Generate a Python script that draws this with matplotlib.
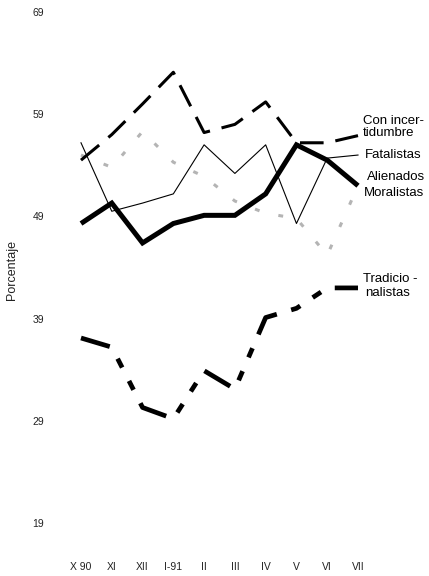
import matplotlib
matplotlib.use("Agg")
import matplotlib.pyplot as plt

months = ["X 90", "XI", "XII", "I-91", "II", "III", "IV", "V", "VI", "VII"]
con_incertidumbre = [54.5, 57.0, 60.0, 63.1, 57.2, 58.0, 60.2, 56.2, 56.2, 56.9]
fatalistas = [56.2, 49.5, 50.3, 51.2, 56.0, 53.2, 56.0, 48.3, 54.7, 55.0]
alienados = [48.3, 50.3, 46.4, 48.3, 49.1, 49.1, 51.2, 56.0, 54.5, 52.0]
moralistas = [55.0, 53.8, 57.3, 54.3, 52.9, 50.5, 49.3, 48.8, 45.2, 52.0]
tradicionalistas = [37.1, 36.2, 30.3, 29.2, 33.9, 32.1, 39.1, 40.0, 42.0, 42.0]
yticks = [19, 29, 39, 49, 59, 69]

plt.rcParams['font.family'] = ['Liberation Sans', 'DejaVu Sans']
plt.rcParams['lines.scale_dashes'] = False

W, H = 429, 576
fig = plt.figure(figsize=(W / 100, H / 100), dpi=100)
ax = fig.add_axes([50 / W, 24 / H, 345 / W, 552 / H])

x = list(range(len(months)))

ax.plot(x, moralistas, color='#b4b4b4', lw=2.2, linestyle=(0, (3.5, 14)),
        solid_capstyle='butt')
ax.plot(x, fatalistas, color='black', lw=0.8)
ax.plot(x, alienados, color='black', lw=3.6, solid_joinstyle='miter',
        solid_capstyle='butt')
ax.plot(x, con_incertidumbre, color='black', lw=2.2,
        linestyle=(0, (17, 8.6)), dash_capstyle='butt')
ax.plot(x, tradicionalistas, color='black', lw=3.4,
        linestyle=(0, (21.6, 10.8, 7.2, 10.8, 7.2, 10.8)),
        dash_capstyle='butt')

ax.set_xlim(-1.007, 10.202)
ax.set_ylim(16.16, 70.17)
ax.set_xticks(x)
ax.set_xticklabels(months)
ax.set_yticks(yticks)
ax.set_yticklabels([str(v) for v in yticks])
ax.tick_params(length=0, labelsize=7.5, colors='#222222')
ax.tick_params(axis='x', pad=7)
ax.tick_params(axis='y', pad=4)
for s in ax.spines.values():
    s.set_visible(False)

ax.set_ylabel("Porcentaje", fontsize=9, color='#222222')
ax.yaxis.set_label_coords(-0.092, 0.511)

fs = 9.5
ax.text(9.16, 57.7, "Con incer-\ntidumbre", fontsize=fs, va='center',
        ha='left', linespacing=1.0, clip_on=False)
ax.text(9.23, 54.97, "Fatalistas", fontsize=fs, va='center', ha='left',
        clip_on=False)
ax.text(9.29, 52.9, "Alienados", fontsize=fs, va='center', ha='left',
        clip_on=False)
ax.text(9.2, 51.3, "Moralistas", fontsize=fs, va='center', ha='left',
        clip_on=False)
ax.text(9.16, 42.9, "Tradicio -", fontsize=fs, va='center', ha='left',
        clip_on=False)
ax.text(9.23, 41.5, "nalistas", fontsize=fs, va='center', ha='left',
        clip_on=False)

fig.savefig("out.png", dpi=100)
